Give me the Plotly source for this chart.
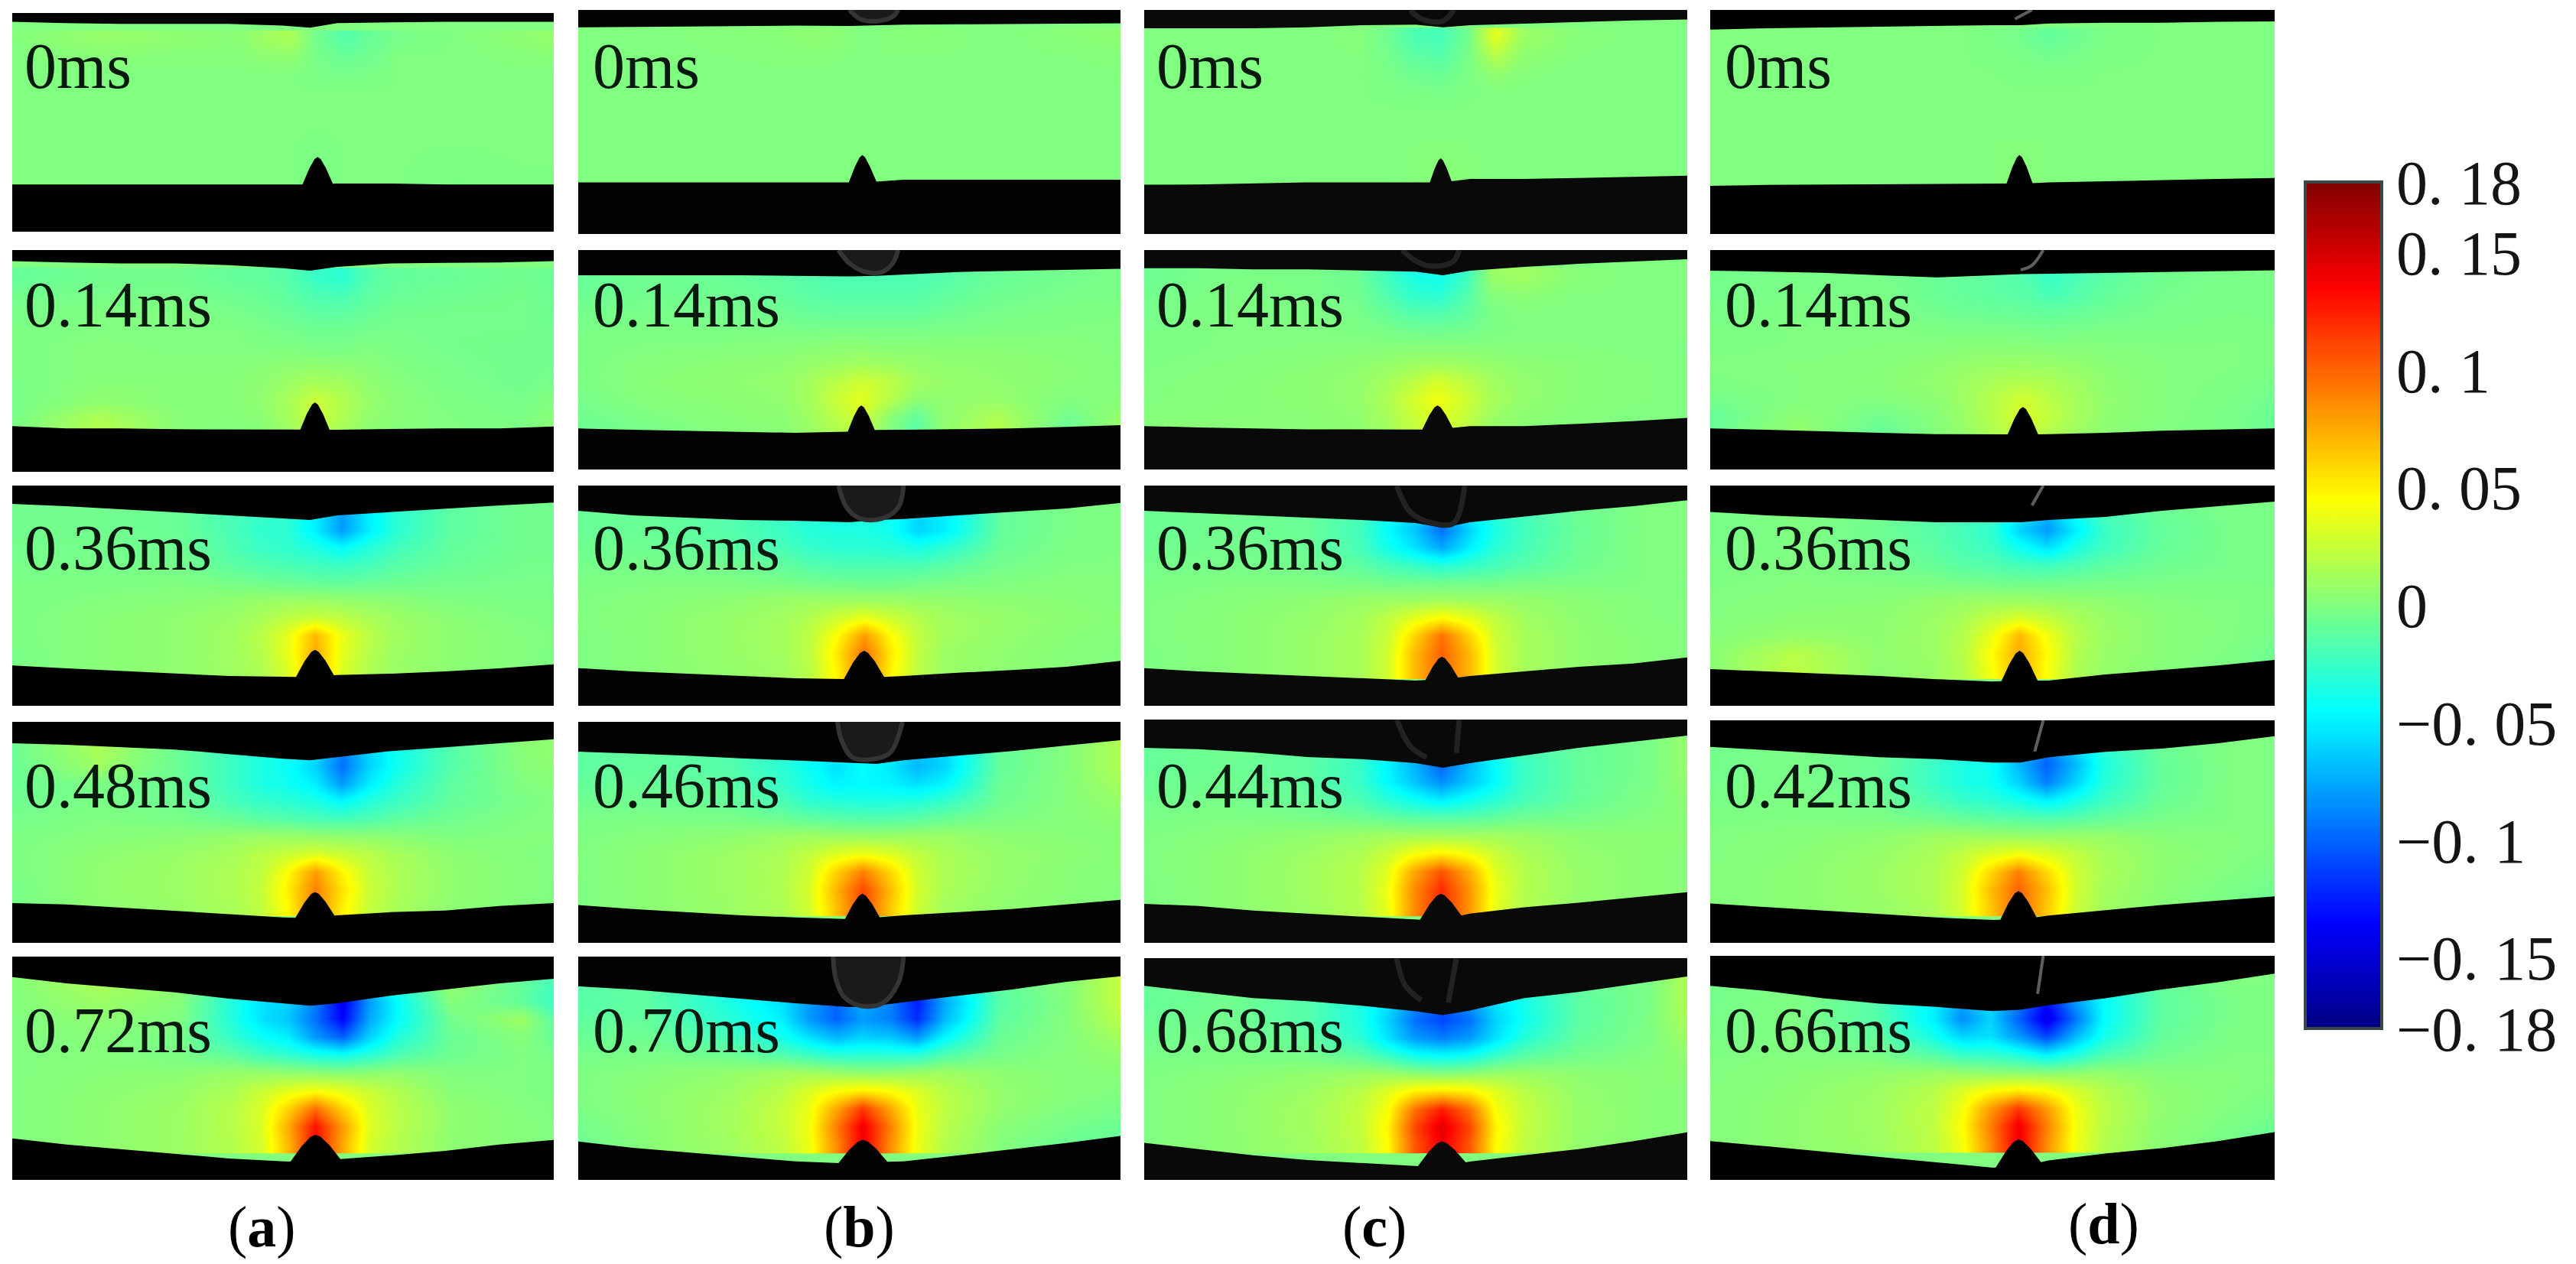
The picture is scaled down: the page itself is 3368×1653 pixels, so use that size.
import numpy as np
import plotly.graph_objects as go

W, H = 3368, 1653

# ---------- shared value grid (strain in units of 0.01) ----------
X_OFFSETS = [-58, -40, -25, -15, -10, -5, 0, 5, 10, 15, 25, 38, 50]
Y_LEVELS = [12, 20, 28, 36, 44, 52, 60, 68, 76, 84]
EDGE_X = [0, 10, 20, 30, 40, 50, 55, 60, 70, 80, 90, 100]
COLS = ["a", "b", "c", "d"]
TIMES_A = ["0ms", "0.14ms", "0.36ms", "0.48ms", "0.72ms"]
TIMES_B = ["0ms", "0.14ms", "0.36ms", "0.46ms", "0.70ms"]
TIMES_C = ["0ms", "0.14ms", "0.36ms", "0.44ms", "0.68ms"]
TIMES_D = ["0ms", "0.14ms", "0.36ms", "0.42ms", "0.66ms"]
CBAR_TICKS = [0.18, 0.15, 0.1, 0.05, 0, -0.05, -0.1, -0.15, -0.18]
CBAR_TEXT = ["0. 18", "0. 15", "0. 1", "0. 05", "0", "−0. 05", "−0. 1", "−0. 15", "−0. 18"]
JET = [[0, "rgb(0,0,131)"], [0.125, "rgb(0,0,255)"], [0.375, "rgb(0,255,255)"], [0.5, "rgb(128,255,128)"],
       [0.625, "rgb(255,255,0)"], [0.875, "rgb(255,0,0)"], [1, "rgb(128,0,0)"]]

# ---------- column a ----------
Z_A1 = [[0,.8,.5,.3,1,1.5,-.5,-1.5,-.8,-.3,0,.5,1],[0,.3,.2,.2,.5,.6,-.3,-.8,-.5,0,0,.2,.4],[0,0,0,0,0,0,-.2,-.3,-.2,0,0,0,0],[0,0,0,0,0,0,0,0,0,0,0,0,0],[0,0,0,0,0,0,0,0,0,0,0,0,0],[0,0,0,0,0,0,0,0,0,0,0,0,0],[0,0,0,0,0,0,-.1,0,0,0,0,0,0],[0,0,0,0,0,0,-.2,0,0,0,-.1,0,0],[.1,0,0,0,0,0,-.2,0,0,0,-.2,-.1,0],[.1,0,0,0,0,0,-.2,0,0,0,-.2,-.1,0]]
Z_A2 = [[-1,-.5,-.5,-1,-1,-1.5,-2.5,-3,-1.5,-1,-.8,-.5,-1],[-.5,-.3,-.3,-.6,-.8,-1.2,-1.8,-2,-1.2,-.8,-.6,-.4,-1],[-.3,0,0,-.3,-.5,-.8,-1.2,-1.2,-.8,-.5,-.4,-.4,-.8],[-.2,0,0,0,-.2,-.4,-.6,-.6,-.4,-.3,-.4,-.4,-.6],[-.2,.2,0,0,0,0,-.2,-.2,0,-.2,-.4,-.5,-.5],[-.2,.2,.2,.2,.3,.5,.6,.5,.3,0,-.3,-.5,-.3],[-.3,.3,.3,.3,.5,1,1.5,1.2,.6,.2,-.2,-.5,0],[-.5,.6,.2,.3,.6,1.4,2.6,1.8,.8,.3,-.1,-.3,.5],[-.5,1.6,.3,.2,.4,1.2,2.6,1.6,.6,.3,0,-.2,.8],[-.5,2,.3,0,.2,.8,2,1,.4,.2,0,0,1]]
Z_A3 = [[-.5,-.5,-.8,-2,-2.5,-3,-5,-8,-5,-3,-1.2,-.5,-.5],[-.5,-.5,-.8,-2,-2.8,-3,-5,-8,-5,-3,-1.2,-.5,-.5],[-.4,-.4,-.6,-1.8,-2.4,-2.8,-3.5,-4.5,-3.2,-2.2,-1,-.5,-.5],[-.3,-.3,-.4,-1.2,-1.6,-1.9,-2.2,-2.4,-2,-1.4,-.8,-.4,-.4],[-.2,-.1,0,-.3,-.5,-.7,-.9,-1,-.8,-.6,-.4,-.3,-.3],[-.2,.1,.3,.6,.9,1,1,.8,.6,.4,0,-.2,-.2],[-.2,.3,.6,1,1.5,2.2,2.6,2.2,1.5,1,.4,0,-.2],[-.2,.3,.6,1.2,2,3.6,7,3.8,2,1.2,.5,.1,-.2],[-.3,.3,.6,1.2,1.8,3.6,7.5,3.6,1.8,1,.5,.1,-.3],[-.3,.3,.6,1.1,1.6,3.2,7.5,3.2,1.6,1,.4,.1,-.3]]
Z_A4 = [[-1,1.5,-.8,-2.5,-3.5,-4,-5.5,-9,-6,-4,-1.5,.3,1],[-1,1,-.8,-2.5,-3.5,-4.2,-6,-9.5,-6,-4,-1.5,.2,.8],[-.8,-.2,-.8,-2.5,-3.5,-4,-5,-8,-5,-3.2,-1.2,0,.5],[-.6,-.2,-.6,-2,-2.6,-3,-3.5,-4.5,-3.2,-2.4,-1,-.2,.3],[-.4,0,-.2,-.8,-1.2,-1.5,-1.8,-2,-1.7,-1.1,-.5,0,.2],[-.2,.2,.4,.8,1,1,.8,.6,.6,.4,0,.1,.1],[-.2,.5,.9,1.4,2,2.6,3.2,2.6,2,1.4,.5,.1,0],[-.3,.6,1,1.6,2.2,4.5,8,4.8,2.4,1.6,.6,.2,-.2],[-.4,.6,1,1.6,2.4,5,9,5.5,2.6,1.6,.6,.2,-.3],[-.4,.5,.9,1.5,2.2,4.6,9,5,2.4,1.4,.5,.1,-.3]]
Z_A5 = [[0,1.5,.5,-2,-3,-4,-5,-8,-5,-3,.8,-1,-3],[0,1,.2,-3.5,-5.5,-6,-9,-14,-8,-4.5,.2,-1,-4],[0,.5,0,-3.5,-5.5,-6.5,-9.5,-13.5,-7.5,-4.5,-.5,1,-3.5],[0,.2,-.3,-2.8,-4.2,-5,-8,-10,-6,-3.4,-.8,.2,-1.8],[0,.2,-.2,-1.2,-2.2,-2.8,-3.5,-4,-3,-1.8,-.6,0,-.6],[0,.3,.4,.8,.8,.6,.4,.2,.4,.6,0,0,-.2],[0,.4,.8,1.6,2.6,3.6,4.2,3.6,2.6,1.7,.3,0,-.2],[0,.5,1,2,3.2,6,9.5,6,3.2,2,.6,.1,-.2],[0,.5,1,2,3.2,7.5,13,8,3.4,2,.6,.2,-.2],[0,.5,1,1.9,3,7,13,7.5,3,1.8,.5,.2,-.2]]
TOP_A1 = [4,4.6,5,5,5,5.8,6.7,4.6,4.2,4,4,4]
TOP_A2 = [5,5.6,6,6,6.8,8.2,9.3,7.6,6,5.8,5.6,5]
TOP_A3 = [8.3,9.4,10.8,12,13.5,15,15.6,13.5,12,10.4,9,7.7]
TOP_A4 = [9.7,10.4,11.5,12.5,14.6,16.7,17.4,16,13.2,11.5,9.7,7.9]
TOP_A5 = [9.2,12,14,16,18.8,20.9,22,20.9,17.5,14.7,12,9.9]
BOT_A1 = [78.4,78.4,78.4,78.4,78.4,78.4,78.4,78,78,78.4,78.4,78.4]
BOT_A2 = [79.4,80.4,80.4,80.8,80.8,80.8,81,81,80.6,80.4,80.4,79.6]
BOT_A3 = [81.7,83,84.2,85.4,86.5,86.8,87,86,85.4,84.4,83,81.2]
BOT_A4 = [82,82.6,84,85.4,87,88.5,88.9,87.5,86.1,85.4,83.3,82]
BOT_A5 = [81.4,84.2,86.2,88.3,90.4,91.7,92,90.8,89,87,84.2,82.1]
CRACK_A = [(56.4,65.8,2.8),(55.9,68.7,2.7),(55.9,74.6,3.5),(55.9,77,3.6),(56,79.8,4.6)]

# ---------- column b ----------
Z_B1 = [[0,0,.2,.3,.5,.4,0,.2,.3,.2,0,.3,.5],[0,0,.1,.2,.2,.2,0,.1,.1,.1,0,.1,.2],[0,0,0,0,0,0,0,0,0,0,0,0,.1],[0,0,0,0,0,0,0,0,0,0,0,0,0],[0,0,0,0,0,0,0,0,0,0,0,0,0],[0,0,0,0,0,0,0,0,0,0,0,0,0],[0,0,0,0,0,0,0,0,0,0,0,0,0],[0,0,0,0,0,0,.1,0,0,0,0,0,0],[0,0,0,0,0,0,.1,0,0,0,0,0,0],[0,0,0,0,0,0,0,0,0,0,0,0,0]]
Z_B2 = [[-1,-.6,-.8,-1.2,-1.5,-1.8,-1.8,-1.8,-1.8,-1.5,-.8,-.4,-.2],[-.8,-.5,-.6,-1,-1.3,-1.5,-1.5,-1.5,-1.5,-1.2,-.6,-.3,-.2],[-.5,-.3,-.4,-.6,-.9,-1,-1,-1,-1,-.7,-.3,-.1,0],[-.3,-.1,-.2,-.2,-.3,-.3,-.3,-.3,-.3,-.2,-.1,0,0],[-.2,0,.1,.2,.3,.4,.4,.3,.3,.3,.3,.2,0],[-.3,.2,.4,.5,.8,1,1.2,1,.8,.6,.5,.3,0],[-.4,.3,.5,.7,1.2,2,2.8,2.2,1.2,.8,.6,.3,.1],[-.6,.2,.4,.6,1.2,2.5,3.5,2,.5,.6,.8,0,.3],[-.8,-.1,.3,.4,1,2,3,.5,-1,.5,1.6,-.5,1],[-1,-.4,.2,.3,.8,1.5,2,0,-1.5,.5,2,-1,1.5]]
Z_B3 = [[-.8,-.8,-1.5,-2.5,-3.2,-3.5,-3.5,-4,-6,-5,-1,-.2,0],[-.8,-.8,-1.5,-2.5,-3.2,-3.5,-3.5,-4,-6,-5,-1,-.2,0],[-.6,-.6,-1.2,-2,-2.6,-3,-3,-3.2,-3.6,-3,-.8,-.1,0],[-.4,-.3,-.5,-1,-1.5,-1.8,-1.8,-1.8,-1.8,-1.3,-.4,0,0],[-.2,0,0,-.2,-.4,-.5,-.6,-.6,-.4,-.2,0,.2,.1],[-.1,.2,.5,.9,1,1,1,1,.9,.7,.5,.3,.1],[-.1,.3,.8,1.2,1.8,2.8,3.8,2.8,1.8,1.2,.8,.4,.2],[-.2,.3,.8,1.3,2.2,4.5,8,4.5,2.2,1.2,.7,.3,.1],[-.2,.3,.8,1.2,2.2,5.2,9.5,5.2,2.2,1,.6,.2,0],[-.2,.3,.7,1.1,2,4.8,9.5,4.8,2,1,.5,.2,0]]
Z_B4 = [[-1.2,-1,-1.5,-3,-4,-4.5,-4,-5,-6.5,-6,-1,.2,2],[-1.2,-1,-1.5,-3,-4.2,-5.5,-4.5,-5.2,-7,-6,-1,.2,2],[-1,-.8,-1.2,-2.6,-3.8,-4.8,-4.6,-4.8,-5.5,-4.8,-.8,.2,1.5],[-.6,-.5,-.8,-1.8,-2.8,-3.2,-3.4,-3.4,-3.2,-2.6,-.6,.2,1],[-.3,-.1,-.2,-.6,-1,-1.3,-1.4,-1.4,-1.2,-.7,-.1,.2,.5],[-.2,.2,.5,1,1.2,1.1,1,1,1.1,1,.5,.3,.2],[-.2,.4,1,1.5,2.3,3.4,4,3.4,2.3,1.5,.8,.4,.2],[-.2,.4,1,1.6,2.8,6,9,6,2.8,1.6,.8,.3,.2],[-.3,.4,1,1.6,3,7,11,7,3,1.5,.7,.3,.1],[-.3,.4,.9,1.5,2.8,6.5,11,6.5,2.8,1.2,.6,.2,.1]]
Z_B5 = [[-1.5,-1,-3,-5,-5.5,-6,-5,-6,-8,-5.5,-1,.2,3],[-1.5,-1.2,-3.5,-5.5,-8,-10,-7,-9,-12.5,-7.5,-1.5,.2,3],[-1.2,-1,-3,-5,-8,-10,-8,-9,-12,-7,-1.2,.2,2.5],[-.8,-.6,-2,-3.8,-5.5,-7,-6,-6.5,-8,-4.6,-.8,.2,1.5],[-.4,-.2,-.6,-1.6,-2.4,-3,-3,-3,-3,-1.6,-.3,.2,.8],[-.2,.2,.6,1.2,1.2,.8,.5,.6,.9,1.1,.5,.2,.3],[-.3,.4,1,2,3.2,4.4,5,4.4,3.2,2,.7,.2,0],[-.4,.4,1.2,2.4,3.8,7.5,11.5,7.5,3.8,2.2,.7,0,-.3],[-.8,.3,1.2,2.4,4,9,14,9,4,2,.4,-.4,-.8],[-1,.3,1.1,2.2,3.8,8.5,14,8.5,3.8,1.8,.2,-.8,-1]]
TOP_B1 = [7.8,7.6,7.4,7.2,7,7.2,6.8,6.6,6.4,6.2,6,6]
TOP_B2 = [11.5,11.5,11.5,11.5,11.8,12,11.8,11.2,10,9.5,9,8.5]
TOP_B3 = [11.5,13.5,14.6,15.6,16,16.7,15.6,15.2,13.5,12,10.4,7.9]
TOP_B4 = [13.5,14.4,15.3,16.5,17.4,18.5,19,17.4,15.3,13.2,10.7,8.3]
TOP_B5 = [13.3,14.7,16.8,18.8,20.9,22.6,22,20.5,17.5,14.7,11.3,8.8]
BOT_B1 = [77,77,77,77,77,77,76.6,75.8,75.8,75.8,75.8,75.8]
BOT_B2 = [81.3,81.9,82.3,82.7,83.3,82.7,82,81.9,81.7,81.3,80.6,79.8]
BOT_B3 = [82.9,84.4,85.4,86.5,87.5,87.9,87,86.5,85,83.8,82.3,79.6]
BOT_B4 = [82.9,84.7,86.1,87.5,88.5,89.2,88.5,87.5,86.1,84.7,82.6,80.5]
BOT_B5 = [82.8,85.6,87.6,89.7,91.7,92.7,92,91.7,89,86.2,83.5,80.3]
CRACK_B = [(52.4,64.8,2.5),(52.2,70.8,2.5),(52.7,75,3.7),(52.4,77.8,3.2),(52.5,82,4.5)]

# ---------- column c ----------
Z_C1 = [[0,0,0,.2,-.5,-1.8,-2,-.5,3.5,1,.2,0,0],[0,0,0,.1,-.4,-1.2,-1.5,-.3,2,.6,.1,0,0],[0,0,0,0,-.2,-.6,-.8,-.2,.7,.2,0,0,0],[0,0,0,0,-.1,-.2,-.3,-.1,.1,0,0,0,0],[0,0,0,0,0,0,0,0,0,0,0,0,0],[0,0,0,0,0,0,0,0,0,0,0,0,0],[0,0,0,0,0,.1,.1,.1,0,0,0,0,0],[0,0,0,0,0,.2,.3,.2,0,0,0,0,0],[0,0,0,0,0,.2,.3,.2,0,0,0,0,0],[0,0,0,0,0,0,.1,0,0,0,0,0,0]]
Z_C2 = [[-.8,-.2,-.2,-.6,-2,-3.5,-4,-2.5,.8,1.2,.3,0,.1],[-.6,-.1,-.2,-.5,-1.5,-2.8,-3.2,-1.8,.2,.5,.1,0,.1],[-.4,0,-.1,-.3,-.9,-1.6,-1.8,-1.2,-.2,.1,0,0,.1],[-.3,0,0,-.1,-.3,-.6,-.7,-.5,-.2,0,0,0,.1],[-.2,0,.1,.2,.2,.2,.2,.2,.2,.1,.1,0,0],[-.1,.1,.3,.5,.7,1,1.2,1,.7,.5,.3,.1,0],[0,.2,.4,.7,1.2,2,3,2.2,1.2,.7,.3,.1,0],[0,.2,.4,.7,1.4,2.8,4,2.8,1.4,.7,.3,.1,0],[.2,.3,.3,.6,1.2,2.4,3.5,2.4,1,.5,.2,0,0],[.2,.3,.3,.5,1,2,3,2,.8,.4,.1,0,0]]
Z_C3 = [[-.8,-.5,-.8,-2,-4,-6,-8,-5,-3,-2,-.7,0,.1],[-.8,-.5,-.8,-2.2,-4.5,-6.5,-9.5,-6,-3.5,-2.2,-.8,0,.1],[-.6,-.4,-.7,-2,-3.8,-5.5,-7.5,-5,-3,-2,-.7,0,.1],[-.4,-.3,-.5,-1.2,-2,-2.6,-3.2,-2.6,-2,-1.4,-.6,0,.1],[-.2,0,0,-.2,-.4,-.5,-.5,-.5,-.4,-.2,-.1,0,0],[-.1,.2,.5,.9,1,1.1,1.2,1.1,1,.8,.4,.1,0],[-.1,.3,.7,1.3,2.2,3.6,4.6,3.6,2.2,1.2,.5,.1,0],[-.1,.3,.8,1.4,2.6,6,9.5,6,2.6,1.4,.6,.2,0],[-.2,.3,.8,1.4,2.8,7,10,7,2.8,1.4,.6,.2,0],[-.2,.3,.8,1.4,2.8,7,10,7,2.8,1.4,.6,.2,0]]
Z_C4 = [[-1,-.5,-1,-2,-4,-6,-9,-6,-3.5,-1.8,-1,-.3,1.5],[-1,-.6,-1.2,-2.5,-4.8,-7,-10,-7,-4.5,-2.5,-1,-.3,1.5],[-.8,-.5,-1.1,-2.5,-4.5,-6.5,-8.5,-6.5,-4.5,-2.5,-1,-.2,1.2],[-.5,-.3,-.8,-1.8,-3,-4,-5,-4,-3,-2,-.9,-.1,.8],[-.3,0,-.2,-.6,-1,-1.3,-1.4,-1.3,-1,-.6,-.3,.1,.5],[-.1,.2,.6,1,1.2,1.2,1.2,1.2,1.2,1,.5,.4,.3],[-.1,.4,1,1.6,2.6,4.2,5,4.2,2.6,1.6,.7,.4,.2],[-.1,.4,1.1,1.9,3.4,7.5,10.5,7.5,3.4,1.9,.8,.4,.2],[-.2,.4,1.1,1.9,3.8,8.5,12,8.5,3.8,1.9,.8,.4,.2],[-.2,.4,1,1.8,3.6,8.5,12,8.5,3.6,1.7,.7,.3,.1]]
Z_C5 = [[-1,-.4,-1.2,-3,-5,-7,-9,-7,-5,-3,-1,-.2,3],[-1,-.5,-1.5,-3.5,-5.5,-8.5,-10.5,-8,-5.5,-3.8,-1.3,-.2,3],[-.8,-.4,-1.5,-3.5,-6,-9.5,-11,-9.5,-6,-4,-1.3,-.1,2.5],[-.5,-.3,-1,-3,-5.5,-8,-9,-8,-5.5,-3.2,-1,-.1,1.8],[-.3,-.1,-.3,-1.2,-2.5,-4,-4.5,-4,-2.5,-1.3,-.4,.1,1],[-.1,.2,.6,1,1,.6,.3,.6,1,1,.5,.3,.5],[-.1,.4,1,2,3.4,5,5.5,5,3.4,2,.7,.3,.2],[-.1,.4,1.2,2.4,4.2,9.5,12.5,9.5,4.2,2.4,.8,.3,.1],[-.1,.4,1.2,2.4,4.8,11,14.5,11,4.8,2.4,.8,.3,.1],[-.1,.4,1.1,2.2,4.5,10.5,14,10.5,4.5,2.2,.7,.2,0]]
TOP_C1 = [8.2,8.2,8.2,7.8,6.8,6.6,7.8,6.8,6.1,5.3,4.7,4.3]
TOP_C2 = [8.3,8.3,8.8,8.8,9.4,9.8,11.5,9.4,7.7,6.3,5.2,4.2]
TOP_C3 = [11.5,12.5,13.5,14.6,15.6,17,19.2,16.7,14.2,11.5,9.4,6.7]
TOP_C4 = [12.7,13.3,14.7,16.8,17.7,19.5,21.6,19.5,16,12.7,9.9,7.2]
TOP_C5 = [12.5,15.3,18,19.4,21.5,24,25.7,23.6,18,15.3,11.8,8.3]
BOT_C1 = [78,77.9,77.5,77,77,77,77,75.4,75.4,75,74.4,74]
BOT_C2 = [80.2,80.8,81.3,81.7,81.7,81.9,81.5,80.2,80.2,79.2,78,76.5]
BOT_C3 = [82.9,84.4,85.4,86.5,87.5,88.5,88,86.5,84.4,82.3,80.8,78]
BOT_C4 = [82.5,83.5,85.5,86.9,88.3,89.7,89.5,86.9,84.1,82,79.7,77.3]
BOT_C5 = [83.3,86.1,88.9,91,92.4,93.8,93.8,91.7,88.9,86.1,82.6,78.5]
CRACK_C = [(54.6,66.2,2),(54,70.8,2.8),(54.8,77.7,3),(54.6,78,3.8),(54.8,82.6,4.4)]

# ---------- column d ----------
Z_D1 = [[0,0,0,0,0,-.2,-.4,-1,-.6,-.2,0,0,0],[0,0,0,0,0,-.1,-.2,-.5,-.3,-.1,0,0,0],[0,0,0,0,0,0,-.1,-.1,-.1,0,0,0,0],[0,0,0,0,0,0,0,0,0,0,0,0,0],[0,0,0,0,0,0,0,0,0,0,0,0,0],[0,0,0,0,0,0,0,0,0,0,0,0,0],[0,0,0,0,0,.1,.1,.1,0,0,0,0,0],[0,0,0,0,0,.1,.2,.1,0,0,0,0,0],[0,0,0,0,0,.1,.2,.1,0,0,0,0,-.1],[0,0,0,0,0,0,.1,0,0,0,0,0,-.1]]
Z_D2 = [[-.5,-.2,-.3,-.8,-1,-1.2,-1.6,-2.5,-1.8,-1.2,-.5,-.2,-.3],[-.4,-.2,-.2,-.8,-1,-1.2,-1.4,-2,-1.5,-1,-.4,-.2,-.3],[-.3,-.1,-.1,-.5,-.7,-.8,-.9,-1.1,-.9,-.6,-.3,-.2,-.3],[-.2,0,0,-.1,-.2,-.2,-.3,-.4,-.3,-.2,-.2,-.1,-.2],[-.1,0,.1,.2,.3,.3,.3,.2,.2,.1,0,0,-.2],[0,.1,.2,.5,.7,.9,.9,.8,.6,.3,.1,0,-.3],[-.1,.1,.3,.7,1.1,1.5,1.8,1.5,1,.5,.1,-.1,-.5],[-.5,.1,.1,.5,1.1,2,2.8,2,1.2,.6,.1,-.2,-.8],[-1.2,.5,-.5,.3,1,2,3.2,2.2,1.2,.5,.1,-.3,-1.2],[-1,.8,-1,.2,.8,1.6,2.5,1.6,1,.4,0,-.3,-1.5]]
Z_D3 = [[-.4,0,-.5,-1.5,-2,-2.5,-5,-7,-4,-2,-.8,-.2,-.3],[-.4,0,-.6,-1.5,-2.1,-2.8,-6,-8,-5,-2.5,-1,-.3,-.3],[-.3,0,-.5,-1.3,-1.9,-2.4,-4,-5.5,-3.5,-2.2,-.9,-.3,-.3],[-.2,0,-.3,-.9,-1.3,-1.6,-2,-2.2,-1.8,-1.2,-.6,-.3,-.3],[-.1,.1,0,-.1,-.3,-.4,-.5,-.5,-.4,-.3,-.2,-.2,-.2],[0,.2,.3,.7,.9,1,1,.9,.7,.5,.1,0,-.2],[0,.4,.5,1,1.5,2.4,3.2,2.4,1.5,.9,.3,0,-.3],[0,.8,.5,1.1,1.8,3.8,7,4,1.9,1,.3,0,-.5],[0,2,.6,1,2,4.5,7.5,4.5,1.8,.9,.3,-.1,-1],[0,2.2,.5,.9,1.8,4.2,7.5,4.2,1.6,.8,.2,-.2,-1.2]]
Z_D4 = [[-.5,-.2,-.6,-2,-2.8,-3.5,-6,-9,-6,-3,-.8,0,0],[-.5,-.2,-.8,-2.5,-3.5,-4,-7,-10,-7,-3.5,-1,0,0],[-.4,-.2,-.8,-2.5,-3.5,-4,-6,-9,-6,-3.2,-1,0,0],[-.3,-.1,-.5,-1.8,-2.6,-3,-3.8,-5,-3.8,-2.4,-.8,0,0],[-.1,0,-.1,-.5,-.9,-1.2,-1.4,-1.6,-1.4,-.9,-.3,0,0],[0,.2,.5,1,1.1,1,.9,.8,.9,.8,.3,.1,0],[0,.3,.8,1.5,2.3,3.3,4,3.3,2.3,1.4,.5,.1,-.2],[0,.4,.9,1.6,2.8,5.8,9,5.8,2.8,1.5,.5,0,-.4],[0,.4,.9,1.6,3,6.8,10,6.8,2.9,1.3,.4,-.2,-.8],[0,.4,.8,1.5,2.9,6.4,10,6.4,2.7,1.2,.3,-.3,-1]]
Z_D5 = [[-.5,0,-1,-3,-5,-5.5,-7,-9,-6,-3.5,-1,0,0],[-.5,0,-1.5,-5,-7.5,-5.5,-9,-13,-8,-4.5,-1.2,-.2,0],[-.4,0,-1.5,-5,-8.5,-6,-10,-14.5,-9.5,-4.5,-1.2,-.2,0],[-.3,0,-1,-3.8,-6,-5.5,-8,-11,-7,-3.8,-1,-.1,0],[-.1,.1,-.2,-1.5,-2.6,-2.8,-3.5,-5,-3.5,-1.8,-.5,0,0],[0,.3,.6,.9,.8,.5,.4,.3,.5,.7,.2,.1,0],[0,.4,1,1.9,3.2,4.4,5,4.4,3,1.8,.5,.1,-.2],[0,.5,1.1,2.2,4,8,11.5,8,4,2.1,.6,0,-.5],[0,.5,1.1,2.2,4.4,9,14,9,4.2,2,.5,-.2,-1],[0,.5,1,2.1,4,8.5,14,8.5,4,1.8,.4,-.4,-1.2]]
TOP_D1 = [8.8,8.2,7.8,7.4,7,6.8,6.8,6.1,5.7,5.7,5.3,5.1]
TOP_D2 = [9.4,9.8,10.4,11.5,12.5,11.5,11,10.8,10.4,9.8,9.4,9.2]
TOP_D3 = [12,13.5,14.6,15.6,16.7,16.7,16.7,15.6,14.2,11.5,9.4,7.3]
TOP_D4 = [11.9,13.4,15,16.6,17.4,19,19,16.6,14.2,12.7,10.3,7.1]
TOP_D5 = [13.4,15.7,18.9,21.3,22.8,24.7,24.1,22,18.9,15,11.8,7.9]
BOT_D1 = [78.5,78.1,77.9,77.9,77.5,77.5,77.5,77,76.4,76,75.4,75]
BOT_D2 = [81.3,81.9,82.7,83.3,83.9,83.9,84,83.9,83.3,82.3,81.7,81.3]
BOT_D3 = [83.3,84.4,85.4,86.5,87.9,89,88.5,88.5,85.8,83.8,81.7,79.2]
BOT_D4 = [82.3,83.9,85.4,87,88.6,89.7,89.5,87.7,85.4,83,81,79.1]
BOT_D5 = [82.7,85,87.4,89.8,92.1,94.5,94,91.3,88.2,85.8,82.7,78.7]
CRACK_D = [(54.8,64.8,2.3),(55.4,71.5,2.7),(54.8,75,3.2),(54.6,76.7,3.2),(54.6,81.9,4)]

# ---------- indenter ghost outlines seen in the black strip (x %, y %) ----------
GHOST_B = [([50,52,55,58,59],[0,4,5,3,0]), ([48,50,53,56,58,59],[0,6,10,10,6,0]), ([48,49.5,52,56,59,60],[0,10,15,15,10,0]),
           ([47.8,48.5,50.5,54,57.5,59.8],[0,8,16,17,14,0]), ([47,47.5,49,52,56,59,60],[0,10,18,22,21,12,0])]
GHOST_C = [([49,51,55,57],[0,4,5,0]), ([47.5,50,52,55,57,58],[0,5,7,7,5,0]), ([46.5,49,53,57,59],[0,12,17,17,0]),
           ([46.5,49,52,None,57.5,58],[0,12,17,None,15,0]), ([46.5,48,51,None,56,57.5],[0,12,19,None,20,0])]
GHOST_D = [([54,57],[4,0]), ([55,57,59],[9,7,0]), ([57,59],[9,0]), ([57.5,59],[14,0]), ([58,59],[17,0])]

# ---------- layout geometry (px) ----------
PANEL_X = dict(a=(16, 724), b=(756, 1465), c=(1496, 2206), d=(2236, 2974))
PANEL_Y = dict(
    a=[(17, 303), (327, 617), (635, 923), (944, 1233), (1251, 1543)],
    b=[(13, 306), (327, 614), (635, 923), (944, 1233), (1251, 1543)],
    c=[(13, 306), (327, 614), (635, 923), (941, 1233), (1253, 1543)],
    d=[(13, 306), (327, 614), (635, 923), (942, 1233), (1250, 1543)],
)
LABEL_Y = [86, 398, 716, 1027, 1347]
LABEL_X = dict(a=30, b=773, c=1510, d=2253)
CAPTIONS = [("a", 342, 1604), ("b", 1123, 1604), ("c", 1797, 1604), ("d", 2750, 1600)]
BLACK = dict(a="rgb(0,0,0)", b="rgb(3,3,3)", c="rgb(9,9,9)", d="rgb(0,0,0)")

Z = dict(a=[Z_A1, Z_A2, Z_A3, Z_A4, Z_A5], b=[Z_B1, Z_B2, Z_B3, Z_B4, Z_B5],
         c=[Z_C1, Z_C2, Z_C3, Z_C4, Z_C5], d=[Z_D1, Z_D2, Z_D3, Z_D4, Z_D5])
TOP = dict(a=[TOP_A1, TOP_A2, TOP_A3, TOP_A4, TOP_A5], b=[TOP_B1, TOP_B2, TOP_B3, TOP_B4, TOP_B5],
           c=[TOP_C1, TOP_C2, TOP_C3, TOP_C4, TOP_C5], d=[TOP_D1, TOP_D2, TOP_D3, TOP_D4, TOP_D5])
BOT = dict(a=[BOT_A1, BOT_A2, BOT_A3, BOT_A4, BOT_A5], b=[BOT_B1, BOT_B2, BOT_B3, BOT_B4, BOT_B5],
           c=[BOT_C1, BOT_C2, BOT_C3, BOT_C4, BOT_C5], d=[BOT_D1, BOT_D2, BOT_D3, BOT_D4, BOT_D5])
CRACK = dict(a=CRACK_A, b=CRACK_B, c=CRACK_C, d=CRACK_D)
TIMES = dict(a=TIMES_A, b=TIMES_B, c=TIMES_C, d=TIMES_D)
GHOST = dict(b=(GHOST_B, "rgb(52,52,52)", 6, "rgb(26,26,26)"), c=(GHOST_C, "rgb(34,34,34)", 7, None),
             d=(GHOST_D, "rgb(95,95,95)", 4, None))

fig = go.Figure()
layout = {}
annotations = []
idx = 0
for col in COLS:
    x0, x1 = PANEL_X[col]
    for r in range(5):
        idx += 1
        y0, y1 = PANEL_Y[col][r]
        suffix = "" if idx == 1 else str(idx)
        xa, ya = f"x{suffix}", f"y{suffix}"
        layout[f"xaxis{suffix}"] = dict(domain=[x0 / W, x1 / W], range=[0, 100], visible=False, fixedrange=True, anchor=ya)
        layout[f"yaxis{suffix}"] = dict(domain=[1 - y1 / H, 1 - y0 / H], range=[100, 0], visible=False, fixedrange=True, anchor=xa)
        cx, cy, hw = CRACK[col][r]
        fig.add_trace(go.Heatmap(x=[cx + o for o in X_OFFSETS], y=Y_LEVELS, z=np.array(Z[col][r]) * 0.01,
                                 coloraxis="coloraxis", zsmooth="best", hoverinfo="skip", xaxis=xa, yaxis=ya))
        tx = [0] + EDGE_X + [100]
        ty = [0] + TOP[col][r] + [0]
        fig.add_trace(go.Scatter(x=tx, y=ty, mode="lines", fill="toself", fillcolor=BLACK[col], line=dict(width=0),
                                 hoverinfo="skip", showlegend=False, xaxis=xa, yaxis=ya))
        base = np.interp([cx - hw, cx + hw], EDGE_X, BOT[col][r])
        pts = [(x, y) for x, y in zip(EDGE_X, BOT[col][r]) if x < cx - hw]
        hl, hr = base[0] - cy, base[1] - cy
        pts += [(cx - hw, base[0]), (cx - 0.55 * hw, cy + 0.42 * hl), (cx - 0.2 * hw, cy + 0.08 * hl), (cx, cy),
                (cx + 0.2 * hw, cy + 0.08 * hr), (cx + 0.55 * hw, cy + 0.42 * hr), (cx + hw, base[1])]
        pts += [(x, y) for x, y in zip(EDGE_X, BOT[col][r]) if x > cx + hw]
        bx = [0] + [p[0] for p in pts] + [100]
        by = [100] + [p[1] for p in pts] + [100]
        fig.add_trace(go.Scatter(x=bx, y=by, mode="lines", fill="toself", fillcolor=BLACK[col], line=dict(width=0),
                                 hoverinfo="skip", showlegend=False, xaxis=xa, yaxis=ya))
        if col in GHOST:
            g, gc, gw, gf = GHOST[col]
            fig.add_trace(go.Scatter(x=g[r][0], y=g[r][1], mode="lines", line=dict(color=gc, width=gw, shape="spline"),
                                     fill="toself" if gf else None, fillcolor=gf,
                                     hoverinfo="skip", showlegend=False, xaxis=xa, yaxis=ya))
        annotations.append(dict(text=TIMES[col][r], x=LABEL_X[col] / W, y=1 - LABEL_Y[r] / H, xref="paper", yref="paper",
                                xanchor="left", yanchor="middle", showarrow=False,
                                font=dict(family="Liberation Serif", size=84, color="rgb(10,25,15)")))

for letter, px, py in CAPTIONS:
    annotations.append(dict(text=f"(<b>{letter}</b>)", x=px / W, y=1 - py / H, xref="paper", yref="paper",
                            xanchor="center", yanchor="middle", showarrow=False,
                            font=dict(family="Liberation Serif", size=76, color="black")))

fig.update_layout(
    width=W, height=H, margin=dict(l=0, r=0, t=0, b=0), showlegend=False,
    paper_bgcolor="white", plot_bgcolor="rgb(128,255,128)", annotations=annotations,
    coloraxis=dict(colorscale=JET, cmin=-0.18, cmax=0.18,
                   colorbar=dict(x=3014 / W, xanchor="left", y=1 - 238 / H, yanchor="top",
                                 len=(1345 - 238) / H, lenmode="fraction", thickness=100, thicknessmode="pixels",
                                 xpad=0, ypad=0, outlinewidth=4, outlinecolor="rgb(55,70,70)",
                                 tickmode="array", tickvals=CBAR_TICKS, ticktext=CBAR_TEXT, ticks="",
                                 tickfont=dict(family="Liberation Serif", size=82, color="rgb(20,20,20)"))),
    **layout,
)
fig.write_html("out.html", config=dict(displayModeBar=False),
               post_script="document.body.style.margin='0';")
